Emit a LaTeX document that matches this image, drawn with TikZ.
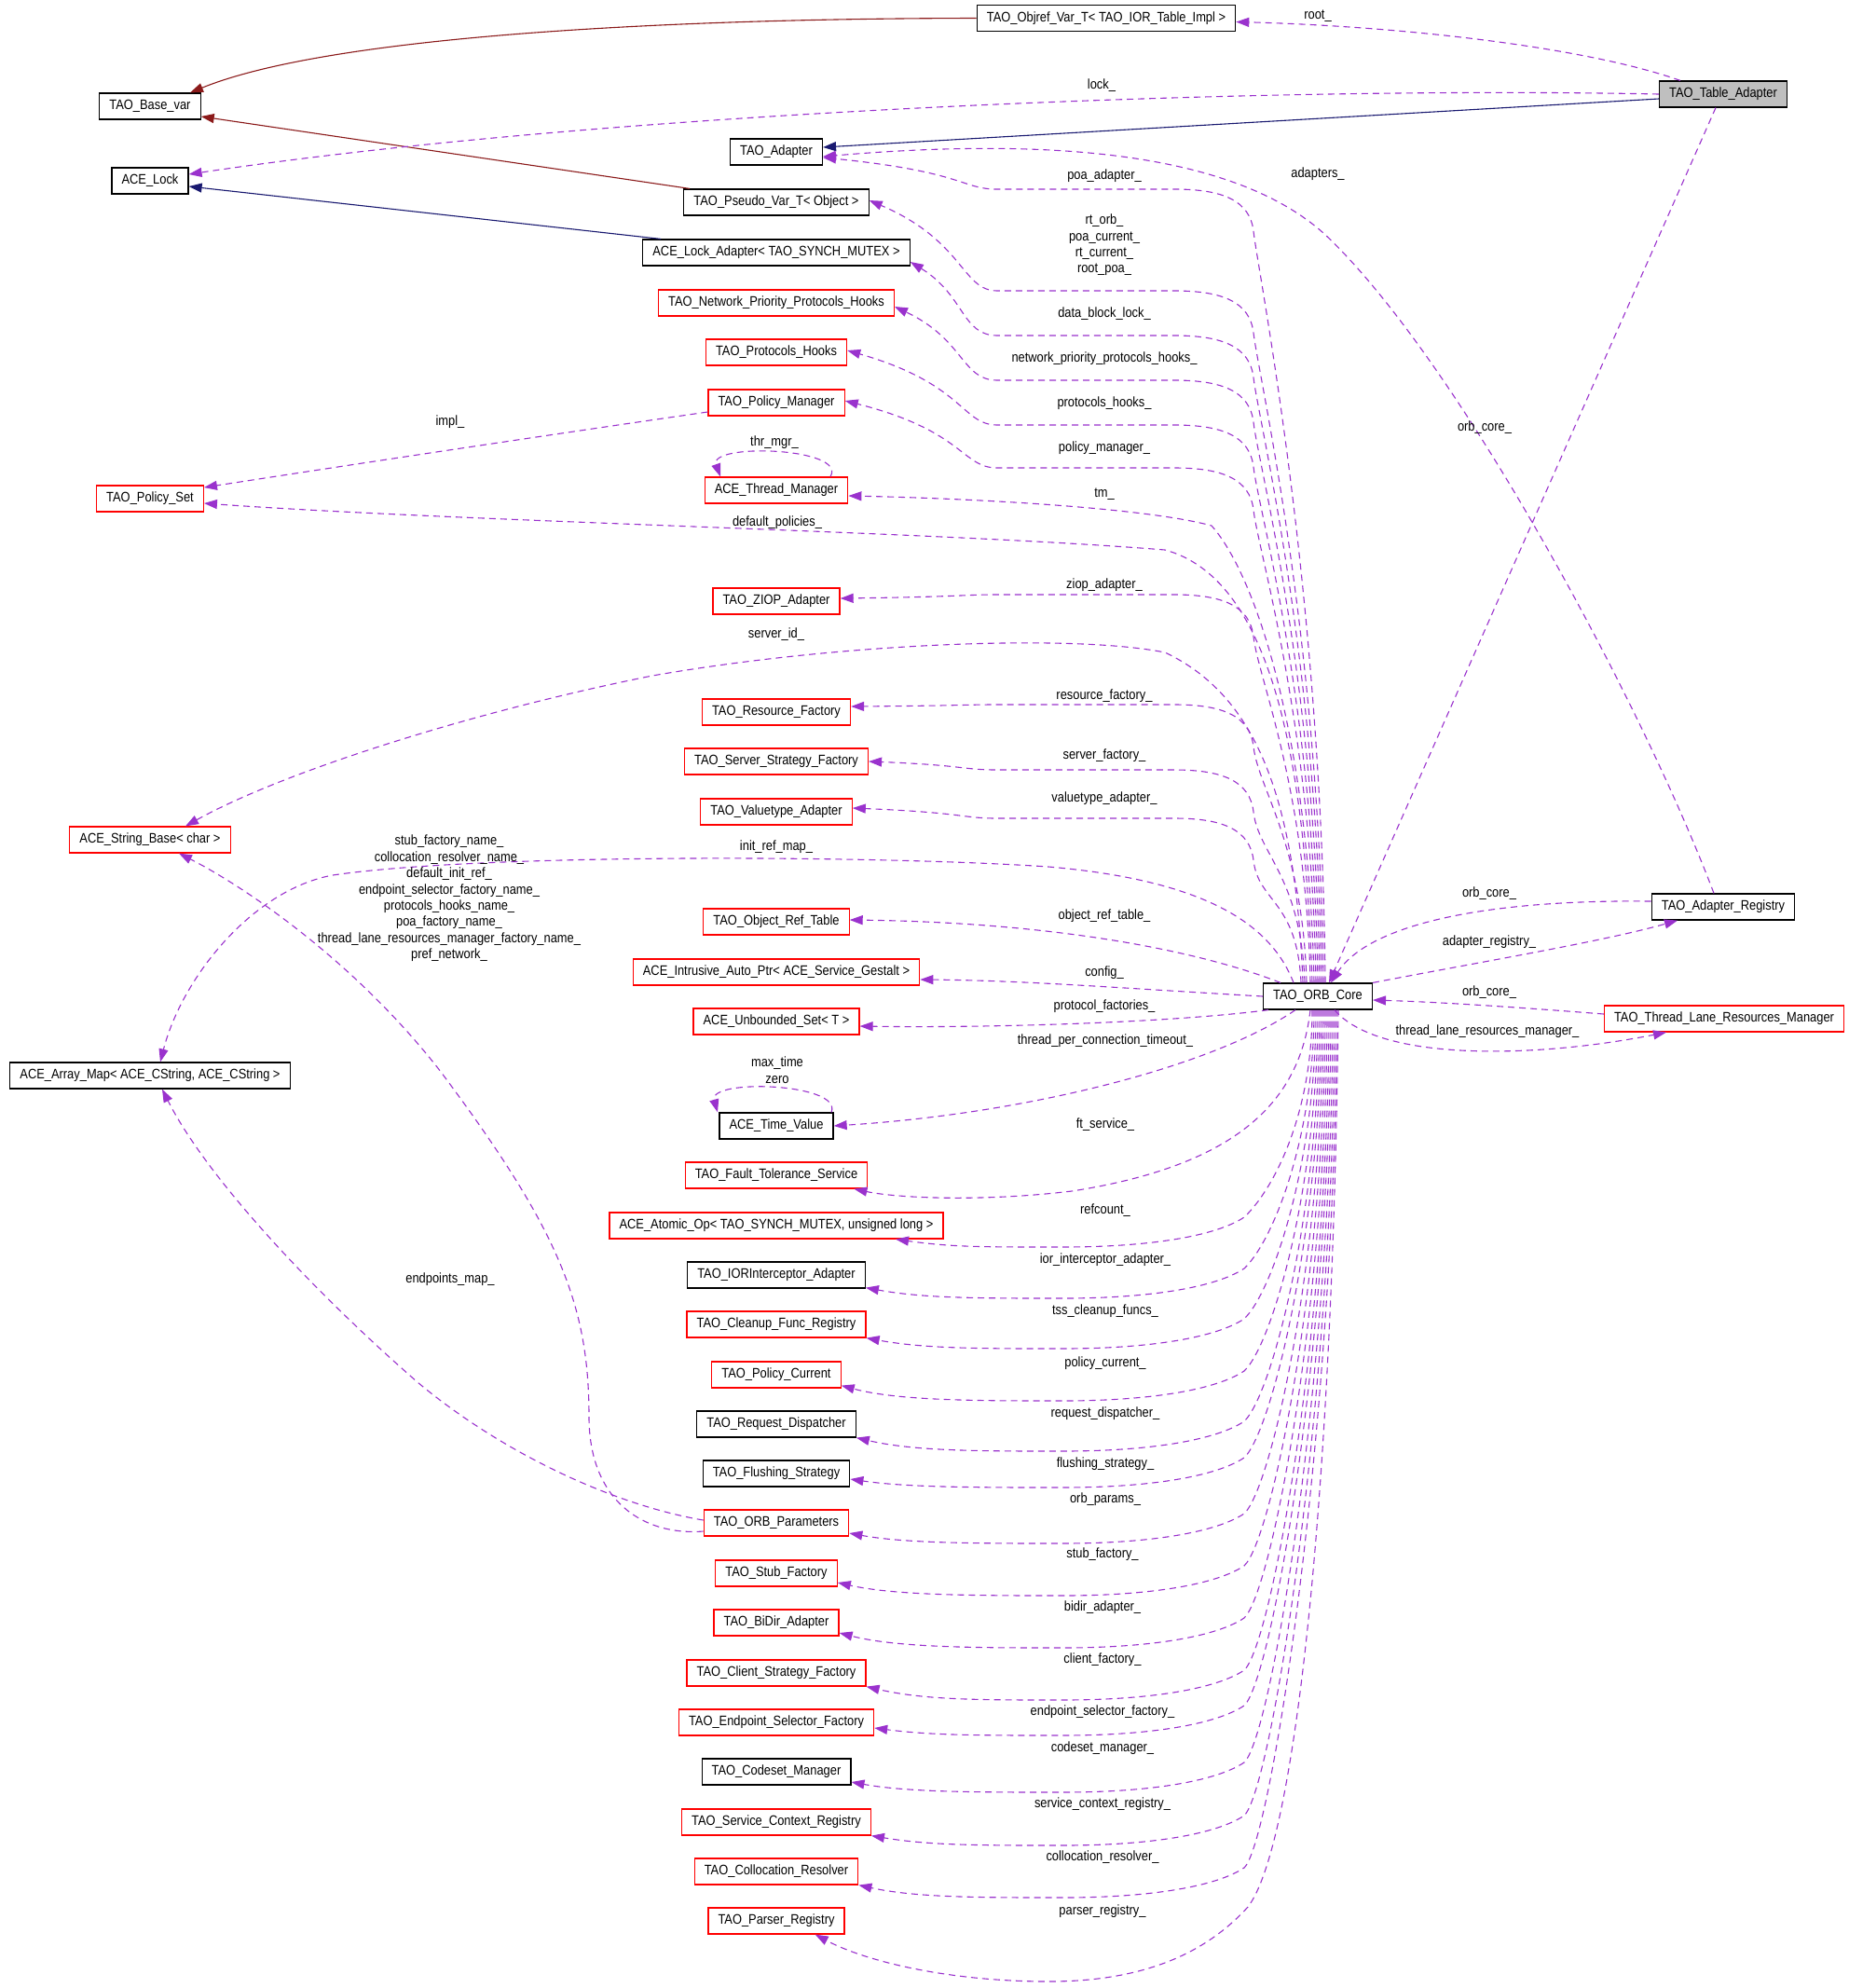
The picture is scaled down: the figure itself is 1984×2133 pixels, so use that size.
\documentclass[tikz,border=0pt]{standalone}
\usepackage{fontspec}
\newfontfamily\dotfont[FakeStretch=0.87]{Liberation Sans}
\usetikzlibrary{arrows.meta}
\definecolor{usecol}{HTML}{9A32CD}
\definecolor{navycol}{HTML}{191970}
\definecolor{firecol}{HTML}{8B1A1A}
\tikzstyle{cls} = [rectangle, draw=black, line width=0.6pt, fill=white,
    font=\dotfont\fontsize{7.4pt}{8.7pt}\selectfont, inner xsep=5.3pt, inner ysep=0pt, minimum height=14pt]
\tikzstyle{clsred} = [cls, draw=red]
\tikzstyle{cur} = [cls, fill=black!25]
% member edge from the top of TAO_ORB_Core: shift, target, target y, run y
\newcommand{\upuse}[4]{%
  \draw[usage] ([xshift=#1]core.north) .. controls +(-4,{-0.5*(1055-#4)}) and (1350,{#4+90}) .. (1345,{#4+45})
    .. controls (1341,{#4+12}) and (1312,#4) .. (1260,#4) -- (1070,#4)
    .. controls (1032,#4) and (1035,{#3+0.45*(#4-#3)}) .. (#2);}
% member edge from the bottom of TAO_ORB_Core: shift, target, lowest y, target x
\newcommand{\downuse}[4]{%
  \draw[usage] ([xshift=#1]core.south) .. controls +(0,{0.45*(#3-1083)}) and (1365,{#3-60}) .. (1335,{#3-32})
    .. controls (1305,{#3-12}) and (1235,#3) .. (1140,#3)
    .. controls (1050,#3) and ({#4+60},#3) .. (#2);}

\begin{document}
\begin{tikzpicture}[x=0.5pt, y=-0.5pt,
usage/.style = {draw=usecol, line width=0.55pt, dash pattern=on 3.5pt off 2.5pt, -{Triangle[length=7pt,width=5pt]}},
inherit/.style = {draw=navycol, line width=0.55pt, -{Triangle[length=7pt,width=5pt]}},
tmpl/.style = {draw=firecol, line width=0.55pt, -{Triangle[length=7pt,width=5pt]}},
lbl/.style = {font=\dotfont\fontsize{7.4pt}{8.7pt}\selectfont, inner sep=0pt, align=center}
                        ]
\useasboundingbox (0,0) rectangle (1984,2133);

% classes, left column
\node[cls] (base) at (161,114) {TAO\_Base\_var};
\node[cls] (lck) at (161,194) {ACE\_Lock};
\node[clsred] (pset) at (161,535) {TAO\_Policy\_Set};
\node[clsred] (sbase) at (161,901) {ACE\_String\_Base< char >};
\node[cls] (amap) at (161,1154) {ACE\_Array\_Map< ACE\_CString, ACE\_CString >};

% classes, middle column
\node[cls] (obj) at (1187,19.5) {TAO\_Objref\_Var\_T< TAO\_IOR\_Table\_Impl >};
\node[cls] (adp) at (833,163) {TAO\_Adapter};
\node[cls] (pvar) at (833,217) {TAO\_Pseudo\_Var\_T< Object >};
\node[cls] (ladp) at (833,271) {ACE\_Lock\_Adapter< TAO\_SYNCH\_MUTEX >};
\node[clsred] (nph) at (833,325) {TAO\_Network\_Priority\_Protocols\_Hooks};
\node[clsred] (ph) at (833,378) {TAO\_Protocols\_Hooks};
\node[clsred] (pm) at (833,432) {TAO\_Policy\_Manager};
\node[clsred] (tmgr) at (833,526) {ACE\_Thread\_Manager};
\node[clsred] (ziop) at (833,645) {TAO\_ZIOP\_Adapter};
\node[clsred] (rf) at (833,764) {TAO\_Resource\_Factory};
\node[clsred] (ssf) at (833,817) {TAO\_Server\_Strategy\_Factory};
\node[clsred] (vta) at (833,871) {TAO\_Valuetype\_Adapter};
\node[clsred] (ort) at (833,989) {TAO\_Object\_Ref\_Table};
\node[clsred] (iap) at (833,1043) {ACE\_Intrusive\_Auto\_Ptr< ACE\_Service\_Gestalt >};
\node[clsred] (uset) at (833,1096) {ACE\_Unbounded\_Set< T >};
\node[cls] (tv) at (833,1208) {ACE\_Time\_Value};
\node[clsred] (fts) at (833,1261) {TAO\_Fault\_Tolerance\_Service};
\node[clsred] (aop) at (833,1315) {ACE\_Atomic\_Op< TAO\_SYNCH\_MUTEX, unsigned long >};
\node[cls] (ioria) at (833,1368) {TAO\_IORInterceptor\_Adapter};
\node[clsred] (cfr) at (833,1421) {TAO\_Cleanup\_Func\_Registry};
\node[clsred] (pc) at (833,1475) {TAO\_Policy\_Current};
\node[cls] (rd) at (833,1528) {TAO\_Request\_Dispatcher};
\node[cls] (fs) at (833,1581) {TAO\_Flushing\_Strategy};
\node[clsred] (op) at (833,1634) {TAO\_ORB\_Parameters};
\node[clsred] (sf) at (833,1688) {TAO\_Stub\_Factory};
\node[clsred] (bda) at (833,1741) {TAO\_BiDir\_Adapter};
\node[clsred] (csf) at (833,1795) {TAO\_Client\_Strategy\_Factory};
\node[clsred] (esf) at (833,1848) {TAO\_Endpoint\_Selector\_Factory};
\node[cls] (cm) at (833,1901) {TAO\_Codeset\_Manager};
\node[clsred] (scr) at (833,1955) {TAO\_Service\_Context\_Registry};
\node[clsred] (cr) at (833,2008) {TAO\_Collocation\_Resolver};
\node[clsred] (pr) at (833,2061) {TAO\_Parser\_Registry};

% classes, right
\node[cls] (core) at (1414,1069) {TAO\_ORB\_Core};
\node[cur] (tbl) at (1849,101) {TAO\_Table\_Adapter};
\node[cls] (areg) at (1849,973) {TAO\_Adapter\_Registry};
\node[clsred] (tlrm) at (1850,1093) {TAO\_Thread\_Lane\_Resources\_Manager};

% inheritance
\draw[tmpl] (obj.west) .. controls (700,20) and (350,40) .. ([xshift=21.5pt]base.north);
\draw[tmpl] ([xshift=-46.5pt]pvar.north) -- ([yshift=-5.5pt]base.east);
\draw[inherit] ([xshift=-62pt]ladp.north) -- ([yshift=-3pt]lck.east);
\draw[inherit] ([yshift=-2.5pt]tbl.west) -- ([yshift=2.5pt]adp.east);

% TAO_Table_Adapter members
\draw[usage] ([xshift=-23pt]tbl.north) .. controls (1700,50) and (1500,28) .. ([yshift=-2pt]obj.east);
\draw[usage] (tbl.west) .. controls (1350,92) and (650,120) .. ([yshift=3.5pt]lck.east);
\draw[usage] ([xshift=-4pt]tbl.south) -- ([xshift=6pt]core.north);
\draw[usage] ([xshift=-5pt]areg.north) .. controls (1760,750) and (1560,380) .. (1420,250)
    .. controls (1330,170) and (1150,145) .. ([yshift=-2.5pt]adp.east);

% registries
\draw[usage] ([yshift=3pt]areg.west) .. controls (1600,965) and (1470,990) .. ([xshift=7pt]core.north);
\draw[usage] (core.north east) .. controls (1600,1030) and (1720,1010) .. ([xshift=-24.5pt]areg.south);
\draw[usage] ([yshift=2.5pt]tlrm.west) .. controls (1620,1080) and (1540,1075) .. ([yshift=-2pt]core.east);
\draw[usage] ([xshift=9pt]core.south) .. controls (1480,1140) and (1650,1135) .. ([xshift=-31pt]tlrm.south);

% self loops
\draw[usage] ([xshift=29pt]tmgr.north) .. controls (910,480) and (760,475) .. ([xshift=-30pt]tmgr.north);
\draw[usage] ([xshift=29.5pt]tv.north) .. controls (905,1162) and (760,1157) .. ([xshift=-31.5pt]tv.north);

% policies
\draw[usage] ([yshift=-5pt]pm.west) .. controls (600,465) and (400,495) .. ([yshift=6pt]pset.east);
\draw[usage] ([xshift=-3pt]core.north) .. controls (1400,800) and (1360,620) .. (1250,590)
    .. controls (1000,570) and (500,560) .. ([yshift=-2.5pt]pset.east);

% TAO_ORB_Core members, upper half
\upuse{4pt}{[yshift=-3pt]adp.east}{169}{203}
\upuse{3pt}{[yshift=1pt]pvar.east}{215}{312}
\upuse{2pt}{[yshift=-5pt]ladp.east}{281}{360}
\upuse{1pt}{[yshift=-2pt]nph.east}{329}{408}
\upuse{0pt}{[yshift=1pt]ph.east}{376}{456}
\upuse{-1pt}{[yshift=1pt]pm.east}{430}{502}
\draw[usage] ([xshift=-2pt]core.north) .. controls (1405,800) and (1350,620) .. (1300,564)
    .. controls (1230,545) and (1050,535) .. ([yshift=-3pt]tmgr.east);
\upuse{-4pt}{[yshift=1.5pt]ziop.east}{642}{638}
\draw[usage] ([xshift=-8pt]core.north) .. controls (1390,850) and (1345,745) .. (1250,700)
    .. controls (1150,680) and (900,690) .. (700,725) .. controls (500,765) and (300,830) .. ([xshift=19pt]sbase.north);
\upuse{-6pt}{[yshift=3pt]rf.east}{758}{756}
\upuse{-7pt}{ssf.east}{817}{826}
\upuse{-9pt}{[yshift=2pt]vta.east}{867}{878}
\draw[usage] ([xshift=-13pt]core.north) .. controls (1365,995) and (1300,945) .. (1125,930)
    .. controls (950,918) and (520,915) .. (357,939) .. controls (270,955) and (195,1050) .. ([xshift=5.5pt]amap.north);
\draw[usage] ([xshift=-20pt]core.north) .. controls (1300,1025) and (1150,990) .. ([yshift=1pt]ort.east);
\draw[usage] (core.west) .. controls (1200,1060) and (1100,1052) .. ([yshift=-4pt]iap.east);
\draw[usage] ([xshift=3pt]core.south west) .. controls (1250,1098) and (1050,1103) .. ([yshift=-2.5pt]uset.east);

% TAO_ORB_Core members, lower half
\draw[usage] ([xshift=-12pt]core.south) .. controls (1300,1145) and (1100,1195) .. (tv.east);
\draw[usage] ([xshift=-4pt]core.south) .. controls (1395,1180) and (1330,1250) .. (1150,1278)
    .. controls (1050,1290) and (960,1285) .. ([xshift=-7.5pt]fts.south east);
\downuse{-3pt}{[xshift=64pt]aop.south}{1338}{961}
\downuse{-2pt}{[yshift=0.5pt]ioria.south east}{1393}{931}
\downuse{-1pt}{cfr.south east}{1447}{932}
\downuse{0pt}{[yshift=1.5pt]pc.south east}{1503}{904}
\downuse{1pt}{rd.south east}{1557}{921}
\downuse{2pt}{[yshift=-3pt]fs.east}{1596}{914}
\downuse{3pt}{[yshift=-5.5pt]op.east}{1656}{912}
\downuse{4pt}{[yshift=-5pt]sf.east}{1712}{901}
\downuse{5pt}{[yshift=-5.5pt]bda.east}{1768}{903}
\downuse{6pt}{csf.south east}{1824}{932}
\downuse{7pt}{[yshift=-3pt]esf.east}{1862}{940}
\downuse{8pt}{[yshift=-5.5pt]cm.east}{1923}{914}
\downuse{9pt}{scr.south east}{1980}{938}
\downuse{10pt}{cr.south east}{2036}{923}
\draw[usage] ([xshift=11pt]core.south) .. controls (1430,1600) and (1390,1980) .. (1339,2046)
    .. controls (1290,2100) and (1220,2126) .. (1125,2126) .. controls (1020,2126) and (930,2105) .. ([xshift=-16pt]pr.south east);

% TAO_ORB_Parameters members
\draw[usage] ([yshift=-4.5pt]op.west) .. controls (690,1648) and (632,1610) .. (632,1520)
    .. controls (632,1400) and (600,1320) .. (473,1150) .. controls (380,1030) and (260,950) .. ([xshift=15.5pt]sbase.south);
\draw[usage] ([yshift=1.5pt]op.west) .. controls (660,1615) and (540,1560) .. (448,1483)
    .. controls (330,1380) and (220,1260) .. ([xshift=6.5pt]amap.south);

% labels
\node[lbl] (l-root) at (1414,17) {root\_};
\node[lbl] (l-lock) at (1182,92) {lock\_};
\node[lbl] (l-adapters) at (1414,187) {adapters\_};
\node[lbl] (l-tblcore) at (1593,459) {orb\_core\_};
\node[lbl] (l-poa) at (1185,189) {poa\_adapter\_};
\node[lbl] (l-pvar) at (1185,263) {rt\_orb\_\\poa\_current\_\\rt\_current\_\\root\_poa\_};
\node[lbl] (l-dbl) at (1185,337) {data\_block\_lock\_};
\node[lbl] (l-nph) at (1185,385) {network\_priority\_protocols\_hooks\_};
\node[lbl] (l-ph) at (1185,433) {protocols\_hooks\_};
\node[lbl] (l-pm) at (1185,481) {policy\_manager\_};
\node[lbl] (l-impl) at (483,453) {impl\_};
\node[lbl] (l-thr) at (831,475) {thr\_mgr\_};
\node[lbl] (l-tm) at (1185,530) {tm\_};
\node[lbl] (l-dp) at (834,561) {default\_policies\_};
\node[lbl] (l-ziop) at (1185,628) {ziop\_adapter\_};
\node[lbl] (l-sid) at (833,681) {server\_id\_};
\node[lbl] (l-rf) at (1185,747) {resource\_factory\_};
\node[lbl] (l-ssf) at (1185,811) {server\_factory\_};
\node[lbl] (l-vta) at (1185,857) {valuetype\_adapter\_};
\node[lbl] (l-irm) at (833,909) {init\_ref\_map\_};
\node[lbl] (l-names) at (482,964) {stub\_factory\_name\_\\collocation\_resolver\_name\_\\default\_init\_ref\_\\endpoint\_selector\_factory\_name\_\\protocols\_hooks\_name\_\\poa\_factory\_name\_\\thread\_lane\_resources\_manager\_factory\_name\_\\pref\_network\_};
\node[lbl] (l-ort) at (1185,983) {object\_ref\_table\_};
\node[lbl] (l-cfg) at (1185,1044) {config\_};
\node[lbl] (l-pf) at (1185,1080) {protocol\_factories\_};
\node[lbl] (l-aregcore) at (1598,959) {orb\_core\_};
\node[lbl] (l-areg) at (1598,1011) {adapter\_registry\_};
\node[lbl] (l-tlrmcore) at (1598,1065) {orb\_core\_};
\node[lbl] (l-tlrm) at (1596,1107) {thread\_lane\_resources\_manager\_};
\node[lbl] (l-tpct) at (1186,1117) {thread\_per\_connection\_timeout\_};
\node[lbl] (l-tv) at (834,1148) {max\_time\\zero};
\node[lbl] (l-ft) at (1186,1207) {ft\_service\_};
\node[lbl] (l-rc) at (1186,1299) {refcount\_};
\node[lbl] (l-ioria) at (1186,1352) {ior\_interceptor\_adapter\_};
\node[lbl] (l-ep) at (483,1373) {endpoints\_map\_};
\node[lbl] (l-tss) at (1186,1407) {tss\_cleanup\_funcs\_};
\node[lbl] (l-pc) at (1186,1463) {policy\_current\_};
\node[lbl] (l-rd) at (1186,1517) {request\_dispatcher\_};
\node[lbl] (l-fs) at (1186,1571) {flushing\_strategy\_};
\node[lbl] (l-op) at (1186,1609) {orb\_params\_};
\node[lbl] (l-sf) at (1183,1668) {stub\_factory\_};
\node[lbl] (l-bda) at (1183,1725) {bidir\_adapter\_};
\node[lbl] (l-csf) at (1183,1781) {client\_factory\_};
\node[lbl] (l-esf) at (1183,1837) {endpoint\_selector\_factory\_};
\node[lbl] (l-cm) at (1183,1876) {codeset\_manager\_};
\node[lbl] (l-scr) at (1183,1936) {service\_context\_registry\_};
\node[lbl] (l-cr) at (1183,1993) {collocation\_resolver\_};
\node[lbl] (l-pr) at (1183,2051) {parser\_registry\_};
\end{tikzpicture}
\end{document}
